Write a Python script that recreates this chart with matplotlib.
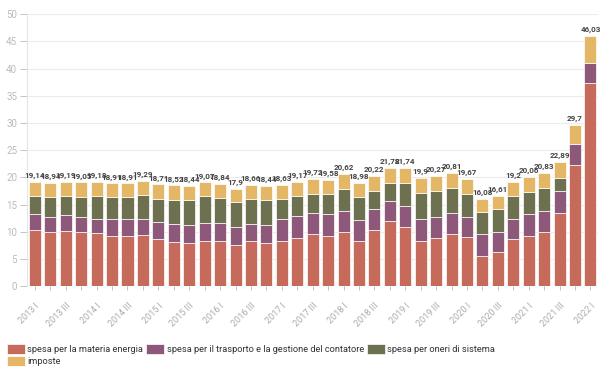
import matplotlib
matplotlib.use("Agg")
import matplotlib.pyplot as plt
import numpy as np

quarters = []
for y in range(2013, 2022):
    for q in ["I", "II", "III", "IV"]:
        quarters.append(f"{y} {q}")
quarters.append("2022 I")

energia = [10.3, 10.0, 10.2, 9.9, 9.8, 9.3, 9.3, 9.4, 8.6, 8.15, 8.0, 8.3,
           8.3, 7.5, 8.2, 8.0, 8.3, 8.9, 9.55, 9.25, 9.9, 8.3, 10.4, 11.9,
           10.8, 8.3, 8.8, 9.5, 8.95, 5.6, 6.2, 8.6, 9.2, 9.9, 13.5, 22.2, 37.3]
trasporto = [2.9, 2.7, 2.8, 2.8, 2.6, 3.0, 3.0, 3.0, 3.2, 3.35, 3.3, 3.3,
             3.3, 3.3, 3.3, 3.3, 4.0, 4.0, 3.85, 3.95, 3.9, 3.8, 3.8, 3.8,
             3.9, 4.0, 3.9, 3.9, 3.75, 3.9, 3.8, 3.8, 4.0, 3.9, 4.0, 3.9, 3.75]
oneri = [3.3, 3.7, 3.6, 3.7, 4.1, 4.1, 4.1, 4.3, 4.3, 4.4, 4.6, 4.9,
         4.6, 4.6, 4.5, 4.5, 3.7, 3.6, 3.6, 3.7, 4.0, 4.3, 3.3, 3.2,
         4.2, 4.9, 4.8, 4.6, 4.2, 4.2, 4.2, 4.1, 4.1, 4.3, 2.45, 0.0, 0.0]
totali = [19.14, 18.94, 19.19, 19.05, 19.18, 18.91, 18.91, 19.29, 18.71, 18.52, 18.44, 19.07,
          18.84, 17.9, 18.66, 18.44, 18.63, 19.17, 19.72, 19.58, 20.62, 18.98, 20.22, 21.78,
          21.74, 19.9, 20.27, 20.81, 19.67, 16.08, 16.61, 19.2, 20.06, 20.83, 22.89, 29.7, 46.03]
imposte = [round(t - e - tr - o, 2) for t, e, tr, o in zip(totali, energia, trasporto, oneri)]

series_names = ["spesa per la materia energia",
                "spesa per il trasporto e la gestione del contatore",
                "spesa per oneri di sistema",
                "imposte"]
colors = ["#c66a5b", "#8d587a", "#6e7150", "#e3b765"]

plt.rcParams['font.family'] = ['Roboto', 'DejaVu Sans']

fig = plt.figure(figsize=(6.11, 3.73), dpi=100)
ax = fig.add_axes([0.044, 0.233, 0.935, 0.729])

x = np.arange(len(quarters))
bottom = np.zeros(len(quarters))
handles = []
for vals, col, name in zip([energia, trasporto, oneri, imposte], colors, series_names):
    v = np.array(vals)
    h = ax.bar(x, v, bottom=bottom, width=0.78, color=col, edgecolor="white",
               linewidth=0.5, label=name, zorder=2)
    handles.append(h)
    bottom += v

for xi, t, lab in zip(x, bottom, totali):
    s = f"{lab:g}".replace(".", ",")
    ax.text(xi, t + 0.5, s, ha="center", va="bottom", fontsize=5.8,
            fontweight="bold", color="#444444", zorder=3)

ax.set_xlim(-0.52, 36.5)
ax.set_ylim(0, 50)
ax.set_yticks(np.arange(0, 51, 5))
ax.yaxis.grid(True, color="#ececec", linewidth=0.8, zorder=0)
ax.set_axisbelow(True)
for sp in ["top", "right", "bottom"]:
    ax.spines[sp].set_visible(False)
ax.spines["left"].set_color("#e6e6e6")
ax.tick_params(axis="y", labelsize=7, colors="#bbbbbb", length=5, width=0.6, pad=2)
ax.tick_params(axis="x", labelsize=6.5, colors="#aaaaaa", length=3, width=0.5, pad=8)
ax.set_xticks(x)
ax.set_xticklabels([q if i % 2 == 0 else "" for i, q in enumerate(quarters)],
                   rotation=45, ha="right", va="top", rotation_mode="anchor")

order = [0, 3, 1, 2]
leg = fig.legend([handles[i] for i in order], [series_names[i] for i in order],
                 loc="lower left", bbox_to_anchor=(0.0, 0.0),
                 ncol=3, frameon=False, fontsize=6.7, handlelength=1.95,
                 handleheight=1.25, handletextpad=0.25, columnspacing=0.3,
                 labelspacing=0.2, borderaxespad=0.35)
for t in leg.get_texts():
    t.set_color("#333333")

fig.savefig("out.png", dpi=100)
